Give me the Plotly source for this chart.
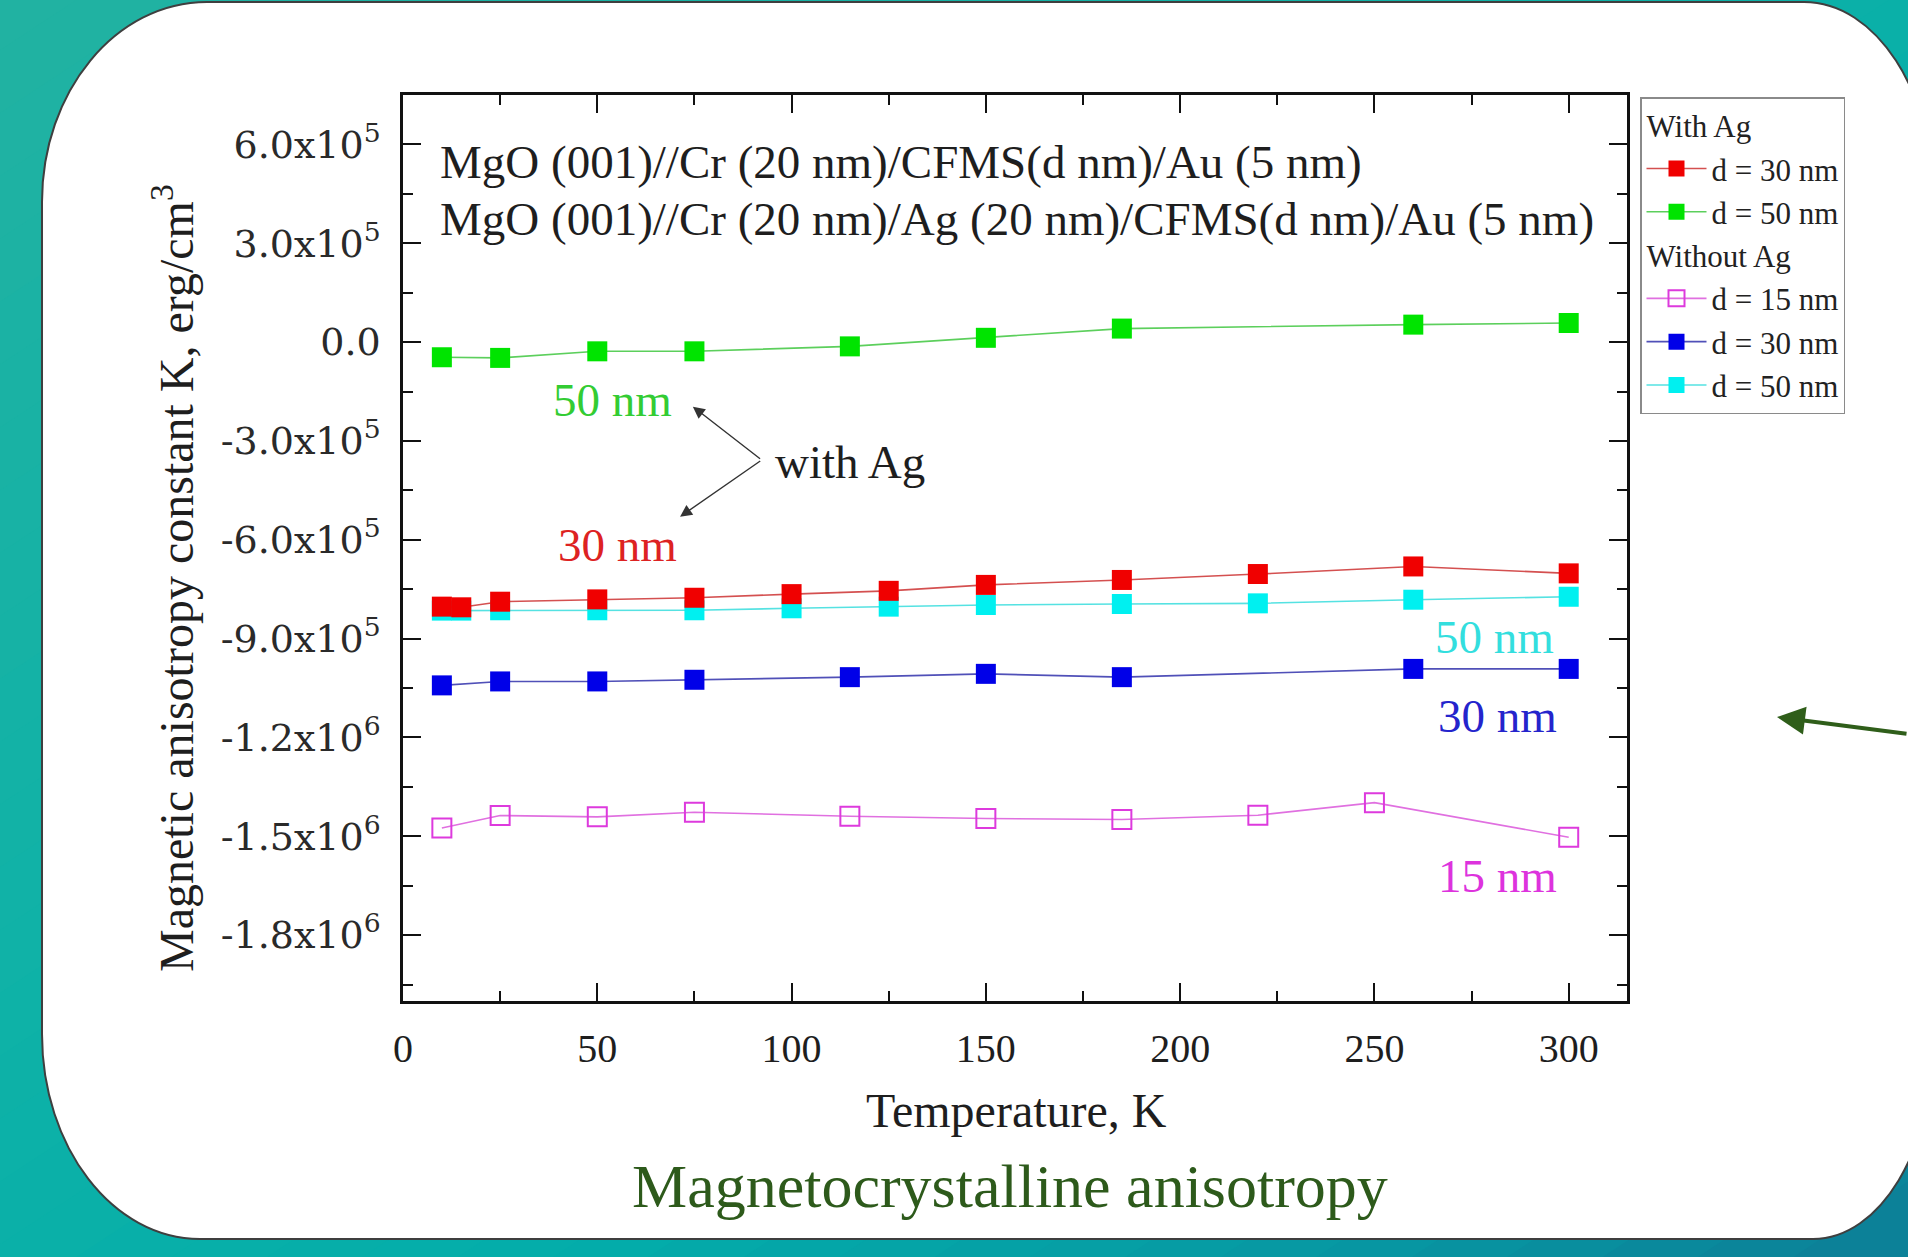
import plotly.graph_objects as go

# ---------------- data ----------------
T_red = [10, 15, 25, 50, 75, 100, 125, 150, 185, 220, 260, 300]
K_red = [-8.03e5, -8.05e5, -7.88e5, -7.81e5, -7.76e5, -7.65e5, -7.55e5, -7.37e5, -7.22e5, -7.04e5, -6.81e5, -7.02e5]

T_green = [10, 25, 50, 75, 115, 150, 185, 260, 300]
K_green = [-4.6e4, -4.8e4, -2.8e4, -2.8e4, -1.3e4, 1.3e4, 4.1e4, 5.3e4, 5.8e4]

T_mag = [10, 25, 50, 75, 115, 150, 185, 220, 250, 300]
K_mag = [-1.475e6, -1.437e6, -1.441e6, -1.427e6, -1.439e6, -1.446e6, -1.449e6, -1.436e6, -1.398e6, -1.503e6]

T_blue = [10, 25, 50, 75, 115, 150, 185, 260, 300]
K_blue = [-1.042e6, -1.030e6, -1.030e6, -1.025e6, -1.017e6, -1.007e6, -1.017e6, -0.992e6, -0.992e6]

T_cyan = [10, 15, 25, 50, 75, 100, 125, 150, 185, 220, 260, 300]
K_cyan = [-8.15e5, -8.15e5, -8.14e5, -8.14e5, -8.14e5, -8.08e5, -8.03e5, -7.98e5, -7.95e5, -7.93e5, -7.82e5, -7.73e5]

x_ticks = [0, 50, 100, 150, 200, 250, 300]
y_ticks = [-1.8e6, -1.5e6, -1.2e6, -9e5, -6e5, -3e5, 0, 3e5, 6e5]
y_ticktext = ["-1.8x10<sup>6</sup>", "-1.5x10<sup>6</sup>", "-1.2x10<sup>6</sup>",
              "-9.0x10<sup>5</sup>", "-6.0x10<sup>5</sup>", "-3.0x10<sup>5</sup>",
              "0.0", "3.0x10<sup>5</sup>", "6.0x10<sup>5</sup>"]

# ---------------- geometry ----------------
W, H = 1908, 1257
ML, MR, MT, MB = 403, 281, 95, 256
PW = W - ML - MR
PH = H - MT - MB


def px(X):
    return (X - ML) / PW


def py(Y):
    return (H - MB - Y) / PH


SERIF = "Liberation Serif"

fig = go.Figure()

# ---------------- background gradient bands ----------------
stops = [(0.0, (0x22, 0xb2, 0xa2)), (0.8, (0x0f, 0xb2, 0xa7)), (1.3, (0x03, 0xad, 0xaa)),
         (1.7, (0x07, 0x98, 0xa3)), (2.0, (0x0c, 0x7f, 0x97))]


def col_at(s):
    for (s0, c0), (s1, c1) in zip(stops[:-1], stops[1:]):
        if s0 <= s <= s1:
            f = (s - s0) / (s1 - s0)
            c = [round(a + (b - a) * f) for a, b in zip(c0, c1)]
            return "rgb(%d,%d,%d)" % tuple(c)
    return "rgb(%d,%d,%d)" % stops[-1][1]


shapes = []
N = 40
for i in range(N):
    s0 = 2.0 * i / N - 0.01
    s1 = 2.0 * (i + 1) / N + 0.01
    Yt, Yb = -20, H + 20

    def Xs(s, Y):
        return W * (s - Y / H)

    pts = [(Xs(s0, Yt), Yt), (Xs(s1, Yt), Yt), (Xs(s1, Yb), Yb), (Xs(s0, Yb), Yb)]
    path = "M " + " L ".join(f"{px(a):.5f},{py(b):.5f}" for a, b in pts) + " Z"
    shapes.append(dict(type="path", xref="paper", yref="paper", path=path,
                       fillcolor=col_at(2.0 * (i + 0.5) / N), line=dict(width=0), layer="below"))

# ---------------- white card ----------------
k = 0.5523


def P(X, Y):
    return f"{px(X):.5f},{py(Y):.5f}"


card = (
    f"M {P(207, 2)} L {P(1804, 2)} "
    f"C {P(1804 + k * 130, 2)} {P(1934, 202 - k * 200)} {P(1934, 202)} "
    f"L {P(1934, 1039)} "
    f"C {P(1934, 1039 + k * 200)} {P(1813 + k * 121, 1239)} {P(1813, 1239)} "
    f"L {P(200, 1239)} "
    f"C {P(200 - k * 158, 1239)} {P(42, 1034 + k * 205)} {P(42, 1034)} "
    f"L {P(42, 202)} "
    f"C {P(42, 202 - k * 200)} {P(207 - k * 165, 2)} {P(207, 2)} Z"
)
shapes.append(dict(type="path", xref="paper", yref="paper", path=card,
                   fillcolor="white", line=dict(color="#3f3f3f", width=2), layer="below"))

# ---------------- traces ----------------
fig.add_trace(go.Scatter(
    x=T_cyan, y=K_cyan, mode="lines+markers", name="d = 50 nm",
    legendgroup="without", legendgrouptitle_text="Without Ag", legendrank=5,
    line=dict(color="#55e2e2", width=1.6),
    marker=dict(symbol="square", size=20, color="#00f0f0", line=dict(width=0))))
fig.add_trace(go.Scatter(
    x=T_red, y=K_red, mode="lines+markers", name="d = 30 nm",
    legendgroup="with", legendgrouptitle_text="With Ag", legendrank=1,
    line=dict(color="#d45050", width=1.6),
    marker=dict(symbol="square", size=20, color="#f00000", line=dict(width=0))))
fig.add_trace(go.Scatter(
    x=T_green, y=K_green, mode="lines+markers", name="d = 50 nm",
    legendgroup="with", legendgrouptitle_text="With Ag", legendrank=2,
    line=dict(color="#5ccf5c", width=1.6),
    marker=dict(symbol="square", size=20, color="#00e400", line=dict(width=0))))
fig.add_trace(go.Scatter(
    x=T_mag, y=K_mag, mode="lines+markers", name="d = 15 nm",
    legendgroup="without", legendgrouptitle_text="Without Ag", legendrank=3,
    line=dict(color="#e070e0", width=1.6),
    marker=dict(symbol="square-open", size=19, color="#dd3add", line=dict(width=2, color="#dd3add"))))
fig.add_trace(go.Scatter(
    x=T_blue, y=K_blue, mode="lines+markers", name="d = 30 nm",
    legendgroup="without", legendgrouptitle_text="Without Ag", legendrank=4,
    line=dict(color="#5050b8", width=1.6),
    marker=dict(symbol="square", size=20, color="#0000e8", line=dict(width=0))))

# ---------------- annotations ----------------
ann = []
TXT = dict(family=SERIF, size=47, color="#1e1e1e")
ann.append(dict(x=9, y=5.46e5, xref="x", yref="y", xanchor="left", yanchor="middle", showarrow=False,
                text="MgO (001)//Cr (20 nm)/CFMS(d nm)/Au (5 nm)", font=TXT))
ann.append(dict(x=9, y=3.74e5, xref="x", yref="y", xanchor="left", yanchor="middle", showarrow=False,
                text="MgO (001)//Cr (20 nm)/Ag (20 nm)/CFMS(d nm)/Au (5 nm)", font=TXT))
ann.append(dict(x=95.2, y=-3.64e5, xref="x", yref="y", xanchor="left", yanchor="middle", showarrow=False,
                text="with Ag", font=dict(family=SERIF, size=47, color="#1e1e1e")))
# arrows from the vertex near "with Ag"
for hx, hy, axp, ayp in [(74.6, -1.96e5, 68.7, 53.3), (71.3, -5.30e5, 81.7, -56.7)]:
    ann.append(dict(x=hx, y=hy, xref="x", yref="y", ax=axp, ay=ayp, text="", showarrow=True,
                    arrowhead=2, arrowsize=1.7, arrowwidth=1.4, arrowcolor="#333333"))

labels = [
    (54.0, -1.76e5, "50 nm", "#33cc33"),
    (55.1, -6.16e5, "30 nm", "#dd2222"),
    (281.0, -8.95e5, "50 nm", "#33dede"),
    (281.8, -1.135e6, "30 nm", "#2424cc"),
    (281.8, -1.621e6, "15 nm", "#dd33dd"),
]
for lx, ly, lt, lc in labels:
    ann.append(dict(x=lx, y=ly, xref="x", yref="y", xanchor="center", yanchor="middle", showarrow=False,
                    text=lt, font=dict(family=SERIF, size=47, color=lc)))

# axis titles
ann.append(dict(x=px(1016), y=py(1110), xref="paper", yref="paper", xanchor="center", yanchor="middle",
                showarrow=False, text="Temperature, K", font=dict(family=SERIF, size=48, color="#1e1e1e")))
ann.append(dict(x=px(173), y=py(578), xref="paper", yref="paper", xanchor="center", yanchor="middle",
                showarrow=False, textangle=-90, text="Magnetic anisotropy constant K, erg/cm<sup>3</sup>",
                font=dict(family=SERIF, size=48, color="#1e1e1e")))
# caption
ann.append(dict(x=px(1010), y=py(1186), xref="paper", yref="paper", xanchor="center", yanchor="middle",
                showarrow=False, text="Magnetocrystalline anisotropy",
                font=dict(family=SERIF, size=62, color="#2d5a1b")))
# green pointer arrow on the right
ann.append(dict(x=px(1777), y=py(717), xref="paper", yref="paper", ax=175, ay=17, text="",
                showarrow=True, arrowhead=2, arrowsize=1.4, arrowwidth=4, arrowcolor="#2f5e1a"))

axis_common = dict(showline=True, linecolor="#111111", linewidth=2.5, mirror="allticks",
                   ticks="inside", ticklen=18, tickwidth=2, tickcolor="#111111",
                   showgrid=False, zeroline=False)

fig.update_layout(
    width=W, height=H,
    margin=dict(l=ML, r=MR, t=MT, b=MB, pad=0),
    paper_bgcolor="#10b0a6",
    plot_bgcolor="rgba(0,0,0,0)",
    template="none",
    shapes=shapes,
    annotations=ann,
    showlegend=True,
    legend=dict(x=px(1640), y=py(97), xanchor="left", yanchor="top",
                bgcolor="white", bordercolor="#8a8a8a", borderwidth=1.5,
                font=dict(family=SERIF, size=31, color="#222222"),
                grouptitlefont=dict(family=SERIF, size=31, color="#222222"),
                tracegroupgap=0, traceorder="grouped", itemwidth=60),
    xaxis=dict(range=[0, 315], tickvals=x_ticks, ticktext=[str(v) for v in x_ticks],
               tickfont=dict(family=SERIF, size=40, color="#1e1e1e"), ticklabelstandoff=10,
               minor=dict(dtick=25, tick0=0, ticks="inside", ticklen=10, tickwidth=2, tickcolor="#111111"),
               **axis_common),
    yaxis=dict(range=[-2.0e6, 7.5e5], tickvals=y_ticks, ticktext=y_ticktext,
               tickfont=dict(family="DejaVu Serif", size=38, color="#2a2a2a"), ticklabelstandoff=12,
               minor=dict(dtick=1.5e5, tick0=0, ticks="inside", ticklen=10, tickwidth=2, tickcolor="#111111"),
               **axis_common),
)

fig.write_html("out.html", config={"displayModeBar": False},
               post_script="document.body.style.margin='0';document.body.style.overflow='hidden';")
